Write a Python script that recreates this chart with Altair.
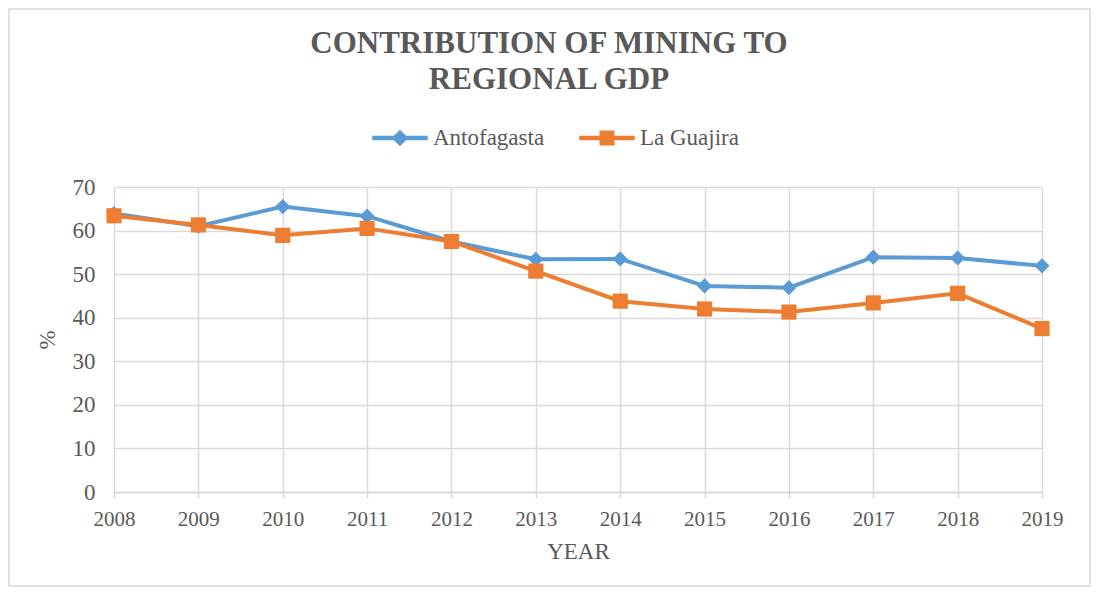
import altair as alt
import pandas as pd

years = [2008, 2009, 2010, 2011, 2012, 2013, 2014, 2015, 2016, 2017, 2018, 2019]
antofagasta = [63.9, 61.0, 65.5, 63.3, 57.5, 53.4, 53.5, 47.3, 46.9, 53.9, 53.7, 51.9]
la_guajira = [63.4, 61.3, 58.9, 60.5, 57.5, 50.7, 43.8, 42.0, 41.3, 43.4, 45.6, 37.5]
series_names = ["Antofagasta", "La Guajira"]
series_colors = ["#5B9BD5", "#ED7D31"]
y_ticks = [0, 10, 20, 30, 40, 50, 60, 70]

rows = []
for yr, a, g in zip(years, antofagasta, la_guajira):
    rows.append({"year": yr, "value": a, "series": series_names[0]})
    rows.append({"year": yr, "value": g, "series": series_names[1]})
df = pd.DataFrame(rows)

FONT = "Liberation Serif"
TXT = "#595959"
GRID = "#d9d9d9"

diamond_path = "M-1,-0.06H1V0.06H-1Z M0,-0.27L0.27,0L0,0.27L-0.27,0Z"
square_path = "M-1,-0.06H1V0.06H-1Z M-0.25,-0.25H0.25V0.25H-0.25Z"

x_enc = alt.X(
    "year:Q",
    scale=alt.Scale(domain=[years[0], years[-1]], nice=False, zero=False),
    axis=alt.Axis(values=years, format="d", title="YEAR", labelPadding=10,
                  labelFontSize=21, labelFlush=False, labelOverlap=False,
                  tickSize=6, tickColor=GRID, tickWidth=1.5,
                  domainColor=GRID, domainWidth=1.5, titlePadding=11),
)
y_enc = alt.Y(
    "value:Q",
    scale=alt.Scale(domain=[0, 70], nice=False),
    axis=alt.Axis(values=y_ticks, title="%", ticks=False, domain=False,
                  labelFontSize=23, labelPadding=19, titlePadding=13),
)
color_enc = alt.Color(
    "series:N",
    scale=alt.Scale(domain=series_names, range=series_colors),
    legend=alt.Legend(
        orient="none", direction="horizontal", legendX=258, legendY=-77,
        title=None, symbolSize=2916, labelFont=FONT, labelFontSize=23,
        labelColor=TXT, labelOffset=5, columnPadding=32, padding=0,
        symbolType={"expr": "datum.value === 'Antofagasta' ? '" + diamond_path + "' : '" + square_path + "'"},
        symbolFillColor={"expr": "scale('color', datum.value)"},
        symbolStrokeColor="transparent",
        symbolOpacity=1,
    ),
)

base = alt.Chart(df).encode(x=x_enc, y=y_enc, color=color_enc)
lines = base.mark_line(strokeWidth=4)
points_a = base.mark_point(filled=True, size=230, opacity=1, shape="diamond").transform_filter(
    alt.datum.series == series_names[0]
)
points_g = base.mark_point(filled=True, size=230, opacity=1, shape="square").transform_filter(
    alt.datum.series == series_names[1]
)

border = alt.Chart(alt.Data(values=[{}])).mark_rect(
    fill=None, stroke=GRID, strokeWidth=1.5
).encode(x=alt.value(-105), x2=alt.value(976), y=alt.value(-178), y2=alt.value(399))

chart = alt.layer(border, lines, points_a, points_g).properties(
    width=928, height=305,
    title=alt.TitleParams(
        ["CONTRIBUTION OF MINING TO", "REGIONAL GDP"],
        font=FONT, fontSize=31, fontWeight="bold", color=TXT,
        anchor="middle", dx=-29, dy=92, lineHeight=36,
    ),
    autosize=alt.AutoSizeParams(type="none"),
    padding={"left": 106, "top": 179, "right": 50, "bottom": 96},
).configure_axis(
    labelFont=FONT, labelColor=TXT,
    titleFont=FONT, titleFontSize=23, titleColor=TXT, titleFontWeight="normal",
    gridColor=GRID, gridWidth=1.5,
).configure_view(stroke=None)

chart.save("out.html", embed_options={"renderer": "svg", "actions": False})
